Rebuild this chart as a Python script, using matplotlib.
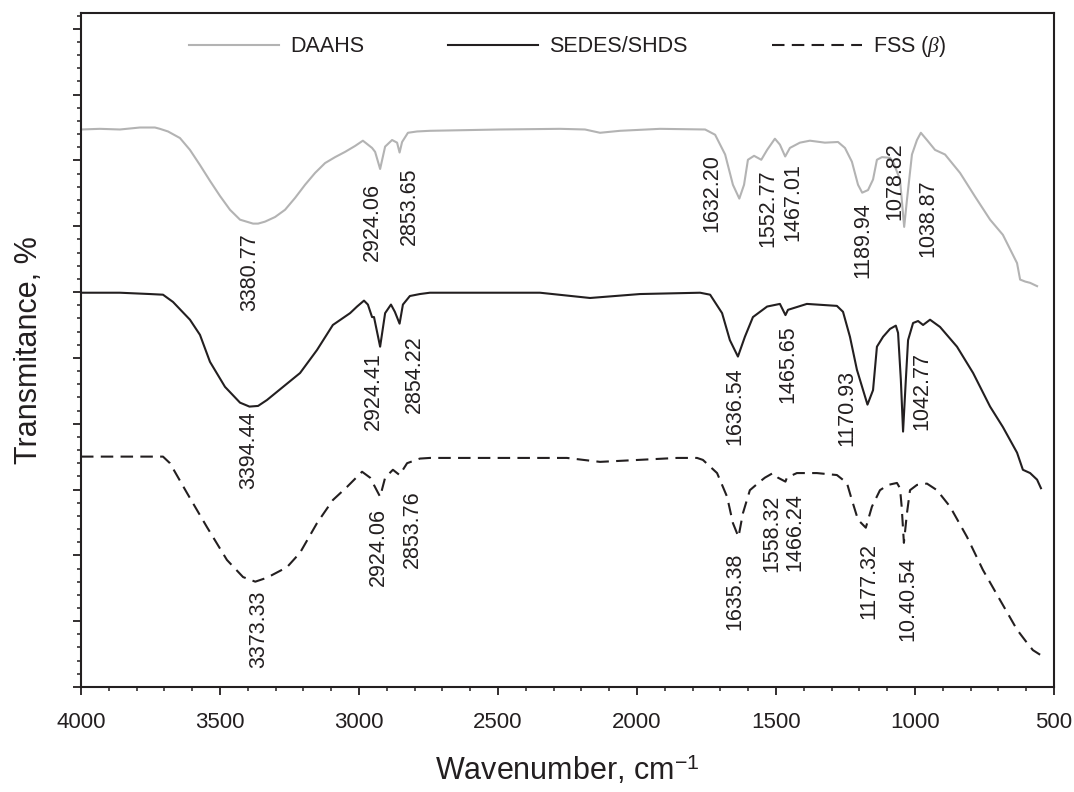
import numpy as np
import matplotlib
matplotlib.use('Agg')
import matplotlib.pyplot as plt
from matplotlib.ticker import MultipleLocator, NullFormatter

# FTIR spectra (wavenumber in cm-1, transmittance in offset units)
daahs_wn = [4000, 3932, 3860, 3788, 3734, 3716, 3687, 3644, 3608, 3572, 3536, 3500, 3464, 3428,
            3381, 3363, 3338, 3302, 3266, 3230, 3194, 3158, 3122, 3086, 3050, 3014, 2986, 2953,
            2942, 2924, 2906, 2881, 2863, 2854, 2845, 2824, 2791, 2745, 2493, 2277, 2187, 2133,
            2061, 1917, 1755, 1719, 1683, 1655, 1632, 1615, 1601, 1579, 1553, 1532, 1504, 1486,
            1467, 1450, 1414, 1378, 1324, 1277, 1252, 1227, 1205, 1190, 1169, 1151, 1137, 1119,
            1090, 1079, 1054, 1039, 1029, 1011, 993, 979, 957, 928, 892, 838, 784, 730, 684,
            633, 622, 604, 586, 561]
daahs_t = [8.47, 8.48, 8.47, 8.50, 8.50, 8.48, 8.44, 8.34, 8.16, 7.93, 7.69, 7.46, 7.25, 7.10,
           7.04, 7.04, 7.07, 7.14, 7.25, 7.43, 7.63, 7.81, 7.96, 8.05, 8.13, 8.22, 8.30, 8.19,
           8.13, 7.87, 8.21, 8.31, 8.27, 8.12, 8.28, 8.42, 8.44, 8.45, 8.47, 8.48, 8.47, 8.42,
           8.45, 8.48, 8.47, 8.39, 8.09, 7.63, 7.42, 7.63, 8.01, 8.07, 8.01, 8.16, 8.33, 8.24,
           8.06, 8.19, 8.27, 8.30, 8.27, 8.28, 8.19, 7.98, 7.63, 7.51, 7.55, 7.71, 8.01, 8.05,
           8.04, 7.98, 7.71, 6.99, 7.40, 8.09, 8.31, 8.42, 8.31, 8.16, 8.09, 7.81, 7.45, 7.10, 6.87,
           6.44, 6.19, 6.16, 6.14, 6.09]

sedes_wn = [4000, 3860, 3752, 3705, 3669, 3608, 3572, 3536, 3482, 3428, 3394, 3363, 3331, 3273,
            3212, 3151, 3094, 3032, 3007, 2982, 2968, 2953, 2946, 2924, 2906, 2885, 2871, 2854,
            2842, 2817, 2781, 2745, 2349, 2169, 1989, 1773, 1737, 1694, 1666, 1637, 1612, 1583,
            1532, 1486, 1466, 1457, 1389, 1281, 1259, 1234, 1209, 1171, 1151, 1137, 1115, 1090,
            1069, 1061, 1051, 1043, 1033, 1025, 1007, 989, 971, 946, 910, 849, 791, 730, 684,
            633, 612, 586, 561, 547]
sedes_t = [5.99, 5.99, 5.97, 5.96, 5.85, 5.58, 5.35, 4.94, 4.56, 4.32, 4.26, 4.27, 4.36, 4.56,
           4.77, 5.12, 5.50, 5.68, 5.78, 5.87, 5.81, 5.62, 5.62, 5.17, 5.68, 5.81, 5.70, 5.52,
           5.81, 5.94, 5.97, 5.99, 5.99, 5.91, 5.97, 5.99, 5.96, 5.68, 5.27, 5.02, 5.32, 5.62,
           5.78, 5.82, 5.65, 5.73, 5.82, 5.79, 5.70, 5.32, 4.82, 4.29, 4.51, 5.17, 5.32, 5.44,
           5.49, 5.38, 4.67, 3.88, 4.67, 5.27, 5.53, 5.56, 5.50, 5.58, 5.47, 5.17, 4.77, 4.26,
           3.95, 3.56, 3.30, 3.25, 3.15, 3.02]

fss_wn = [4000, 3860, 3705, 3680, 3619, 3547, 3475, 3417, 3373, 3331, 3259, 3212, 3151, 3094,
          3043, 2989, 2960, 2924, 2906, 2878, 2854, 2827, 2781, 2745, 2252, 2133, 1856, 1784,
          1763, 1712, 1676, 1655, 1635, 1619, 1594, 1558, 1540, 1511, 1493, 1466, 1461, 1425,
          1353, 1281, 1245, 1227, 1205, 1177, 1155, 1126, 1097, 1065, 1054, 1048, 1040, 1029,
          1018, 993, 957, 921, 874, 813, 756, 694, 633, 597, 576, 550]
fss_t = [3.50, 3.50, 3.50, 3.40, 2.95, 2.43, 1.93, 1.67, 1.60, 1.66, 1.82, 2.04, 2.49, 2.84,
         3.04, 3.27, 3.18, 2.89, 3.18, 3.30, 3.22, 3.40, 3.47, 3.48, 3.48, 3.42, 3.48, 3.48,
         3.45, 3.25, 2.89, 2.49, 2.28, 2.64, 2.99, 3.12, 3.18, 3.25, 3.18, 3.12, 3.18, 3.25,
         3.25, 3.22, 3.10, 2.84, 2.54, 2.42, 2.74, 2.99, 3.07, 3.10, 3.02, 2.74, 2.19, 2.64,
         2.99, 3.07, 3.09, 2.99, 2.74, 2.28, 1.78, 1.32, 0.87, 0.67, 0.56, 0.49]

series_names = ['DAAHS', 'SEDES/SHDS', r'FSS ($\beta$)']

# peak labels: text, x position (cm-1), top of text (y units)
daahs_peaks = [('3380.77', 3392, 6.90), ('2924.06', 2953, 7.66), ('2853.65', 2817, 7.89),
               ('1632.20', 1730, 8.09), ('1552.77', 1529, 7.86), ('1467.01', 1439, 7.96),
               ('1189.94', 1187, 7.37), ('1078.82', 1072, 8.27), ('1038.87', 953, 7.71)]
sedes_peaks = [('3394.44', 3396, 4.18), ('2924.41', 2950, 5.08), ('2854.22', 2799, 5.35),
               ('1636.54', 1648, 4.85), ('1465.65', 1457, 5.50), ('1170.93', 1245, 4.82),
               ('1042.77', 975, 5.09)]
fss_peaks = [('3373.33', 3360, 1.47), ('2924.06', 2932, 2.72), ('2853.76', 2809, 2.99),
             ('1635.38', 1648, 2.04), ('1558.32', 1514, 2.92), ('1466.24', 1432, 2.95),
             ('1177.32', 1166, 2.19), ('10.40.54', 1025, 1.98)]

ink = '#231f20'
plt.rcParams['font.family'] = 'Liberation Sans'
plt.rcParams['mathtext.fontset'] = 'custom'
plt.rcParams['mathtext.rm'] = 'Liberation Sans'
plt.rcParams['mathtext.it'] = 'Liberation Serif:italic'
plt.rcParams['text.color'] = ink

fig = plt.figure(figsize=(10.74, 7.92), dpi=100)
ax = fig.add_axes([0.0754, 0.1326, 0.906, 0.851])

lw = 1.5
ax.plot(daahs_wn, daahs_t, color='#b3b3b3', lw=lw, label=series_names[0])
ax.plot(sedes_wn, sedes_t, color=ink, lw=lw, label=series_names[1])
ax.plot(fss_wn, fss_t, color=ink, lw=lw, dashes=(6, 3.5), label=series_names[2])

for peaks in [daahs_peaks, sedes_peaks, fss_peaks]:
    for txt, x, y in peaks:
        ax.text(x, y, txt, rotation=90, ha='center', va='top', fontsize=15.5, color=ink)

ax.set_xlim(4000, 500)
ax.set_ylim(0, 10.24)
ax.xaxis.set_major_locator(MultipleLocator(500))
ax.xaxis.set_minor_locator(MultipleLocator(100))
ax.yaxis.set_major_locator(MultipleLocator(1))
ax.yaxis.set_minor_locator(MultipleLocator(0.2))
ax.yaxis.set_major_formatter(NullFormatter())
ax.tick_params(which='major', length=6, width=1.3, color=ink, labelsize=16, labelcolor=ink, pad=12)
ax.tick_params(which='minor', length=3, width=1.1, color=ink)
ax.tick_params(top=False, right=False, which='both')
for s in ax.spines.values():
    s.set_linewidth(1.5)
    s.set_color(ink)

ax.set_xlabel('Wavenumber, cm$^{-1}$', fontsize=22, color=ink)
ax.xaxis.set_label_coords(0.5, -0.098)
ax.set_ylabel('Transmitance, %', fontsize=22, color=ink)
ax.yaxis.set_label_coords(-0.038, 0.5)

ax.legend(ncol=3, loc='center', bbox_to_anchor=(0.5, 0.9496), frameon=False,
          fontsize=15.5, handlelength=4.2, handletextpad=0.5, columnspacing=3.9)

plt.savefig('out.png', dpi=100)
plt.close()
